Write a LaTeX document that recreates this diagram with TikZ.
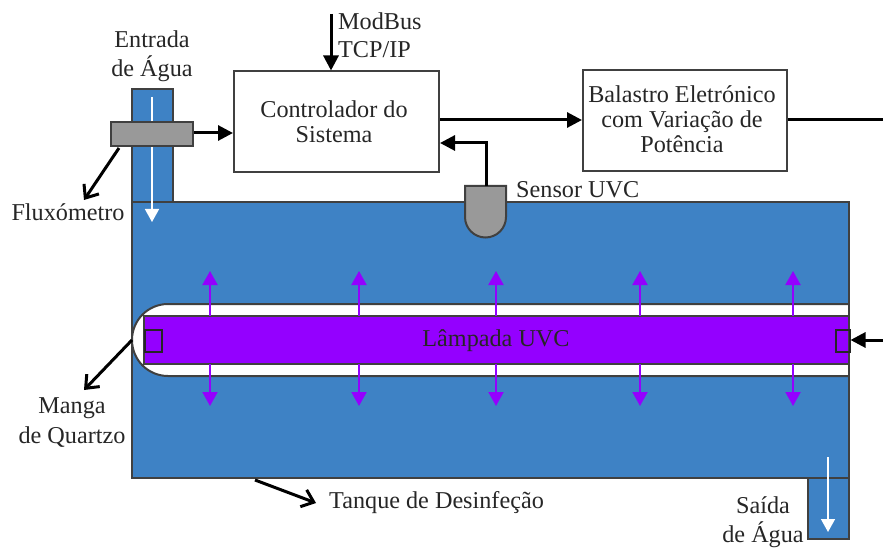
\documentclass[tikz,border=0pt]{standalone}
\usepackage{fontspec}
\setmainfont{Liberation Serif}
\usetikzlibrary{arrows.meta}

\definecolor{tankblue}{RGB}{62,130,197}
\definecolor{lampviolet}{RGB}{148,0,255}
\definecolor{sensorgray}{RGB}{153,153,153}
\definecolor{edgegray}{RGB}{64,64,64}

\tikzset{
  label text/.style={font=\fontsize{24.2}{25}\selectfont, align=center, text=black!85, inner sep=0pt},
  box/.style={draw=edgegray, line width=2pt, fill=white, inner sep=0pt, anchor=north west},
  signal/.style={line width=3pt, -{Triangle[length=15pt,width=15pt]}},
  water/.style={white, line width=1.5pt, -{Triangle[length=13pt,width=14pt]}},
  light/.style={lampviolet, line width=2pt, -{Triangle[length=14pt,width=15pt]}},
  pointer/.style={line width=3pt, -{Straight Barb[length=11pt,width=18pt]}}
}

\begin{document}
\begin{tikzpicture}[x=1pt,y=-1pt]
    \useasboundingbox (0,0) rectangle (883,548);

    % Draw the pipes and the tank
    \fill[tankblue] (132,89) rectangle (173,202);
    \fill[tankblue] (808,478) rectangle (849,539);
    \fill[tankblue] (132,202) rectangle (849,478);
    \draw[edgegray, line width=2pt] (132,202) -- (132,89) -- (173,89) -- (173,202);
    \draw[edgegray, line width=2pt] (808,478) -- (808,539) -- (849,539) -- (849,478);

    % Draw the quartz sleeve and the lamp
    \draw[edgegray, fill=white, line width=2pt] (849,304) -- (168,304) arc[start angle=270, end angle=90, radius=36] -- (849,376);
    \fill[lampviolet] (144,316) rectangle (849,364);
    \draw[edgegray, line width=1.6pt] (849,316) -- (144,316) -- (144,364) -- (849,364);
    \draw[edgegray, line width=2pt] (132,202) rectangle (849,478);
    \node[draw=black!85, line width=2pt, inner sep=0pt, minimum width=17pt, minimum height=22pt, anchor=north west] (capleft) at (143.5,329) {};
    \node[draw=black!85, line width=2pt, inner sep=0pt, minimum width=14pt, minimum height=22pt, anchor=north west] (capright) at (834.5,329) {};
    \node[label text] (lamp) at (496,341) {Lâmpada UVC};

    % Draw the light arrows
    \foreach \px/\nm in {210/a,359/b,496/c,640/d,793/e} {
        \coordinate (up\nm) at (\px,316);
        \coordinate (uptip\nm) at (\px,271);
        \coordinate (down\nm) at (\px,364);
        \coordinate (downtip\nm) at (\px,406);
        \draw[light] (up\nm) -- (uptip\nm);
        \draw[light] (down\nm) -- (downtip\nm);
    }

    % Draw the boxes
    \node[box, minimum width=205pt, minimum height=101pt] (ctrl) at (233,70.5) {};
    \node[label text] at (334,122) {Controlador do\\Sistema};
    \node[box, minimum width=204pt, minimum height=101pt] (ballast) at (582,69.5) {};
    \node[label text] at (682,119) {Balastro Eletrónico\\com Variação de\\Potência};

    % Draw the flow meter and the sensor
    \node[box, fill=sensorgray, minimum width=82pt, minimum height=24pt] (flow) at (110,121) {};
    \draw[edgegray, fill=sensorgray, line width=2pt] (465,186) -- (506,186) -- (506,217) arc[start angle=0, end angle=180, radius=20.5] -- cycle;
    \coordinate (sensor) at (486,186);

    % Draw the water arrows
    \coordinate (inA) at (152,97);
    \coordinate (inB) at (152,222);
    \coordinate (outA) at (828,457);
    \coordinate (outB) at (828,532);
    \draw[white, line width=1.5pt] (inA) -- (flow.north -| inA);
    \draw[water] (flow.south -| inB) -- (inB);
    \draw[water] (outA) -- (outB);

    % Draw the signal lines
    \coordinate (modbus) at (331,14);
    \coordinate (ballastout) at (883,120);
    \coordinate (lampin) at (883,340);
    \coordinate (corner) at (486,143);
    \draw[signal] (flow.east |- 0,133) -- (ctrl.west |- 0,133);
    \draw[signal] (modbus) -- (ctrl.north -| modbus);
    \draw[signal] (ctrl.east |- 0,120) -- (ballast.west |- 0,120);
    \draw[line width=3pt] (ballast.east |- ballastout) -- (ballastout);
    \draw[signal] (sensor) -- (corner) -- (ctrl.east |- corner);
    \draw[signal] (lampin) -- (capright.east |- lampin);

    % Draw the labels with their pointers
    \node[label text] (inlet) at (152,56) {Entrada\\[4pt]de Água};
    \node[label text, anchor=west, align=left] (modbustxt) at (338,35.5) {ModBus\\[3pt]TCP/IP};
    \node[label text, anchor=west] (sensortxt) at (516,190) {Sensor UVC};
    \node[label text] (fluxo) at (68,212) {Fluxómetro};
    \node[label text] (manga) at (72,423) {Manga\\[5pt]de Quartzo};
    \node[label text, anchor=west] (tanque) at (329,503) {Tanque de Desinfeção};
    \node[label text] (outlet) at (763,522) {Saída\\[4pt]de Água};
    \coordinate (fluxoA) at (119,148);
    \coordinate (fluxoB) at (84,200);
    \coordinate (mangaA) at (132,340);
    \coordinate (mangaB) at (84,390);
    \coordinate (tanqueA) at (255,480);
    \coordinate (tanqueB) at (316,503);
    \draw[pointer] (fluxoA) -- (fluxoB);
    \draw[pointer] (mangaA) -- (mangaB);
    \draw[pointer] (tanqueA) -- (tanqueB);
\end{tikzpicture}
\end{document}
